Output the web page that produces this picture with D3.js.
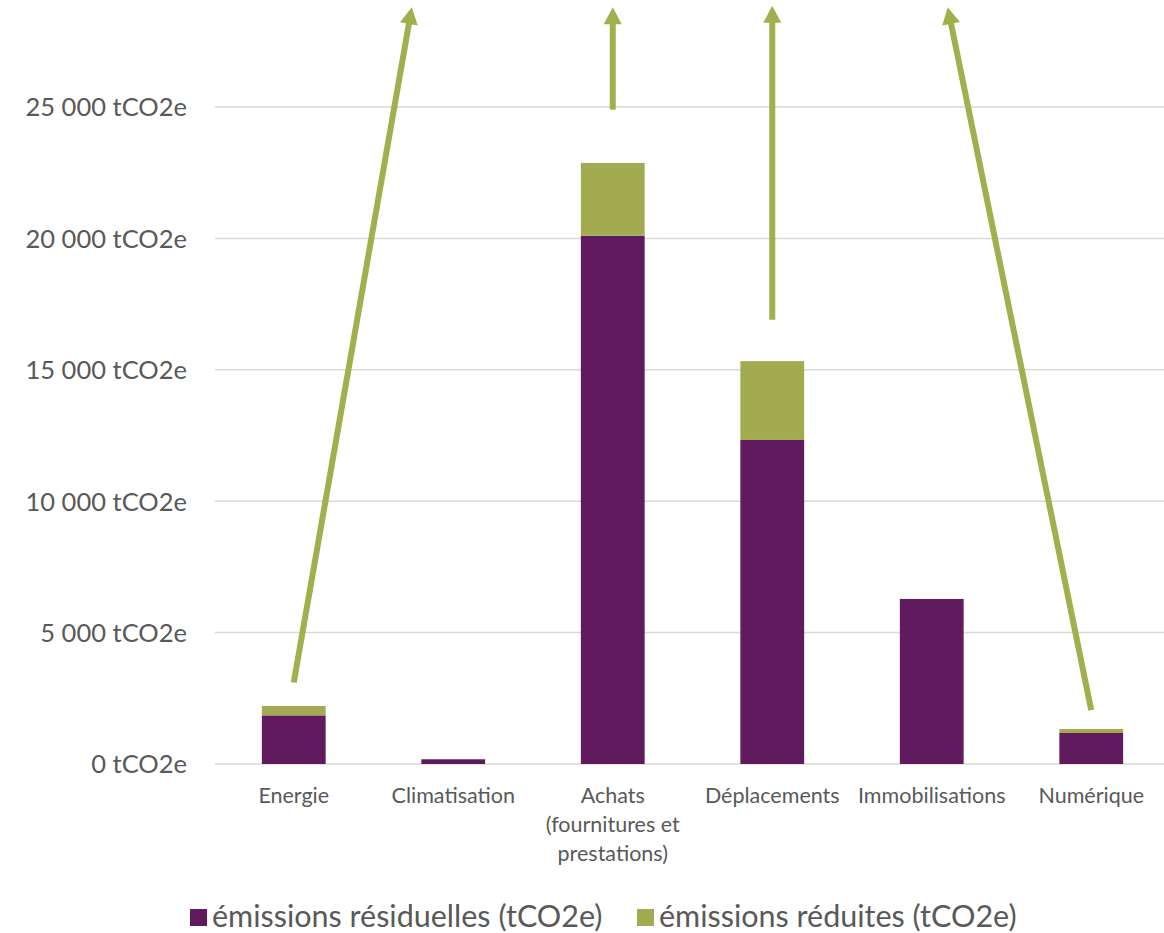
<!DOCTYPE html>
<html>
<head>
<meta charset="utf-8">
<script src="https://cdn.jsdelivr.net/npm/d3@7"></script>
<style>
  body { margin: 0; background: #fff; }
  svg { display: block; font-family: Lato, "Open Sans", sans-serif; }
</style>
</head>
<body>
<svg id="svg" width="1164" height="933"></svg>
<script>
// categories (multi-line labels split on |)
var categories = ['Energie', 'Climatisation', 'Achats|(fournitures et|prestations)', 'Déplacements', 'Immobilisations', 'Numérique'];
var residual = [1850, 180, 20100, 12330, 6280, 1180];
var reduced = [360, 0, 2770, 3000, 0, 150];
var seriesNames = ['émissions résiduelles (tCO2e)', 'émissions réduites (tCO2e)'];
var yTicks = [0, 5000, 10000, 15000, 20000, 25000];

// arrows: from a value above a category up to a value, ending shifted by some categories
var arrowCats = ['Energie', 'Achats|(fournitures et|prestations)', 'Déplacements', 'Numérique'];
var arrowFrom = [3100, 24900, 16900, 2050];
var arrowTo = [28800, 28800, 28850, 28800];
var arrowShift = [0.74, 0, 0, -0.9];

var colors = { residual: '#601B5F', reduced: '#A2AB4F', arrow: '#A1AF4D', grid: '#D9D9D9', text: '#595959' };

var svg = d3.select('svg');

var x = d3.scaleBand()
  .domain(categories)
  .range([214, 1171])
  .paddingInner(0.6)
  .paddingOuter(0.3);

var y = d3.scaleLinear()
  .domain([0, 25000])
  .range([764, 107]);

var fmt = function(v) {
  return d3.format(',')(v).replace(/,/g, ' ') + ' tCO2e';
};

// grid
svg.append('g').selectAll('line').data(yTicks).enter().append('line')
  .attr('x1', 215).attr('x2', 1171)
  .attr('y1', function(d) { return y(d); })
  .attr('y2', function(d) { return y(d); })
  .attr('stroke', colors.grid)
  .attr('stroke-width', 1.5);

// y axis labels
var yAxis = svg.append('g')
  .attr('transform', 'translate(187,0)')
  .call(d3.axisLeft(y).tickValues(yTicks).tickFormat(fmt).tickSize(0).tickPadding(0))
  .attr('font-family', null)
  .attr('font-size', null);
yAxis.select('.domain').remove();
yAxis.selectAll('text')
  .attr('fill', colors.text)
  .style('font-size', '25.5px')
  .attr('dy', '0.35em');

// stacked bars
var stackData = categories.map(function(c, i) {
  return { cat: c, residual: residual[i], reduced: reduced[i] };
});
var stack = d3.stack().keys(['residual', 'reduced'])(stackData);

svg.append('g').selectAll('g').data(stack).enter().append('g')
  .attr('fill', function(d) { return colors[d.key]; })
  .selectAll('rect').data(function(d) { return d; }).enter().append('rect')
  .attr('x', function(d) { return x(d.data.cat); })
  .attr('width', x.bandwidth())
  .attr('y', function(d) { return y(d[1]); })
  .attr('height', function(d) { return y(d[0]) - y(d[1]); });

// x labels
var xl = svg.append('g').selectAll('text').data(categories).enter().append('text')
  .attr('x', function(d) { return x(d) + x.bandwidth() / 2; })
  .attr('y', 803)
  .attr('text-anchor', 'middle')
  .attr('fill', colors.text)
  .style('font-size', '21.5px');
xl.selectAll('tspan').data(function(d) { return d.split('|'); }).enter().append('tspan')
  .attr('x', function() { return d3.select(this.parentNode).attr('x'); })
  .attr('dy', function(d, i) { return i == 0 ? 0 : 29; })
  .text(function(d) { return d; });

// arrows
var arrows = svg.append('g');
arrowCats.forEach(function(c, i) {
  var cx = x(c) + x.bandwidth() / 2;
  var x1 = cx, y1 = y(arrowFrom[i]);
  var x2 = cx + arrowShift[i] * x.step(), y2 = y(arrowTo[i]);
  var dx = x2 - x1, dy = y2 - y1;
  var len = Math.sqrt(dx * dx + dy * dy);
  var ux = dx / len, uy = dy / len;
  var head = 17, hw = 9;
  arrows.append('line')
    .attr('x1', x1).attr('y1', y1)
    .attr('x2', x2 - ux * (head - 2)).attr('y2', y2 - uy * (head - 2))
    .attr('stroke', colors.arrow)
    .attr('stroke-width', 6);
  var bx = x2 - ux * head, by = y2 - uy * head;
  arrows.append('path')
    .attr('d', 'M' + x2 + ',' + y2 +
      'L' + (bx - uy * hw) + ',' + (by + ux * hw) +
      'L' + (bx + uy * hw) + ',' + (by - ux * hw) + 'Z')
    .attr('fill', colors.arrow);
});

// legend
var legendX = [190, 637];
var lg = svg.append('g').selectAll('g').data(seriesNames).enter().append('g')
  .attr('transform', function(d, i) { return 'translate(' + legendX[i] + ',909)'; });
lg.append('rect')
  .attr('width', 17).attr('height', 17)
  .attr('fill', function(d, i) { return i == 0 ? colors.residual : colors.reduced; });
lg.append('text')
  .attr('x', 22).attr('y', 18)
  .attr('fill', colors.text)
  .style('font-size', '30.5px')
  .text(function(d) { return d; });
</script>
</body>
</html>
